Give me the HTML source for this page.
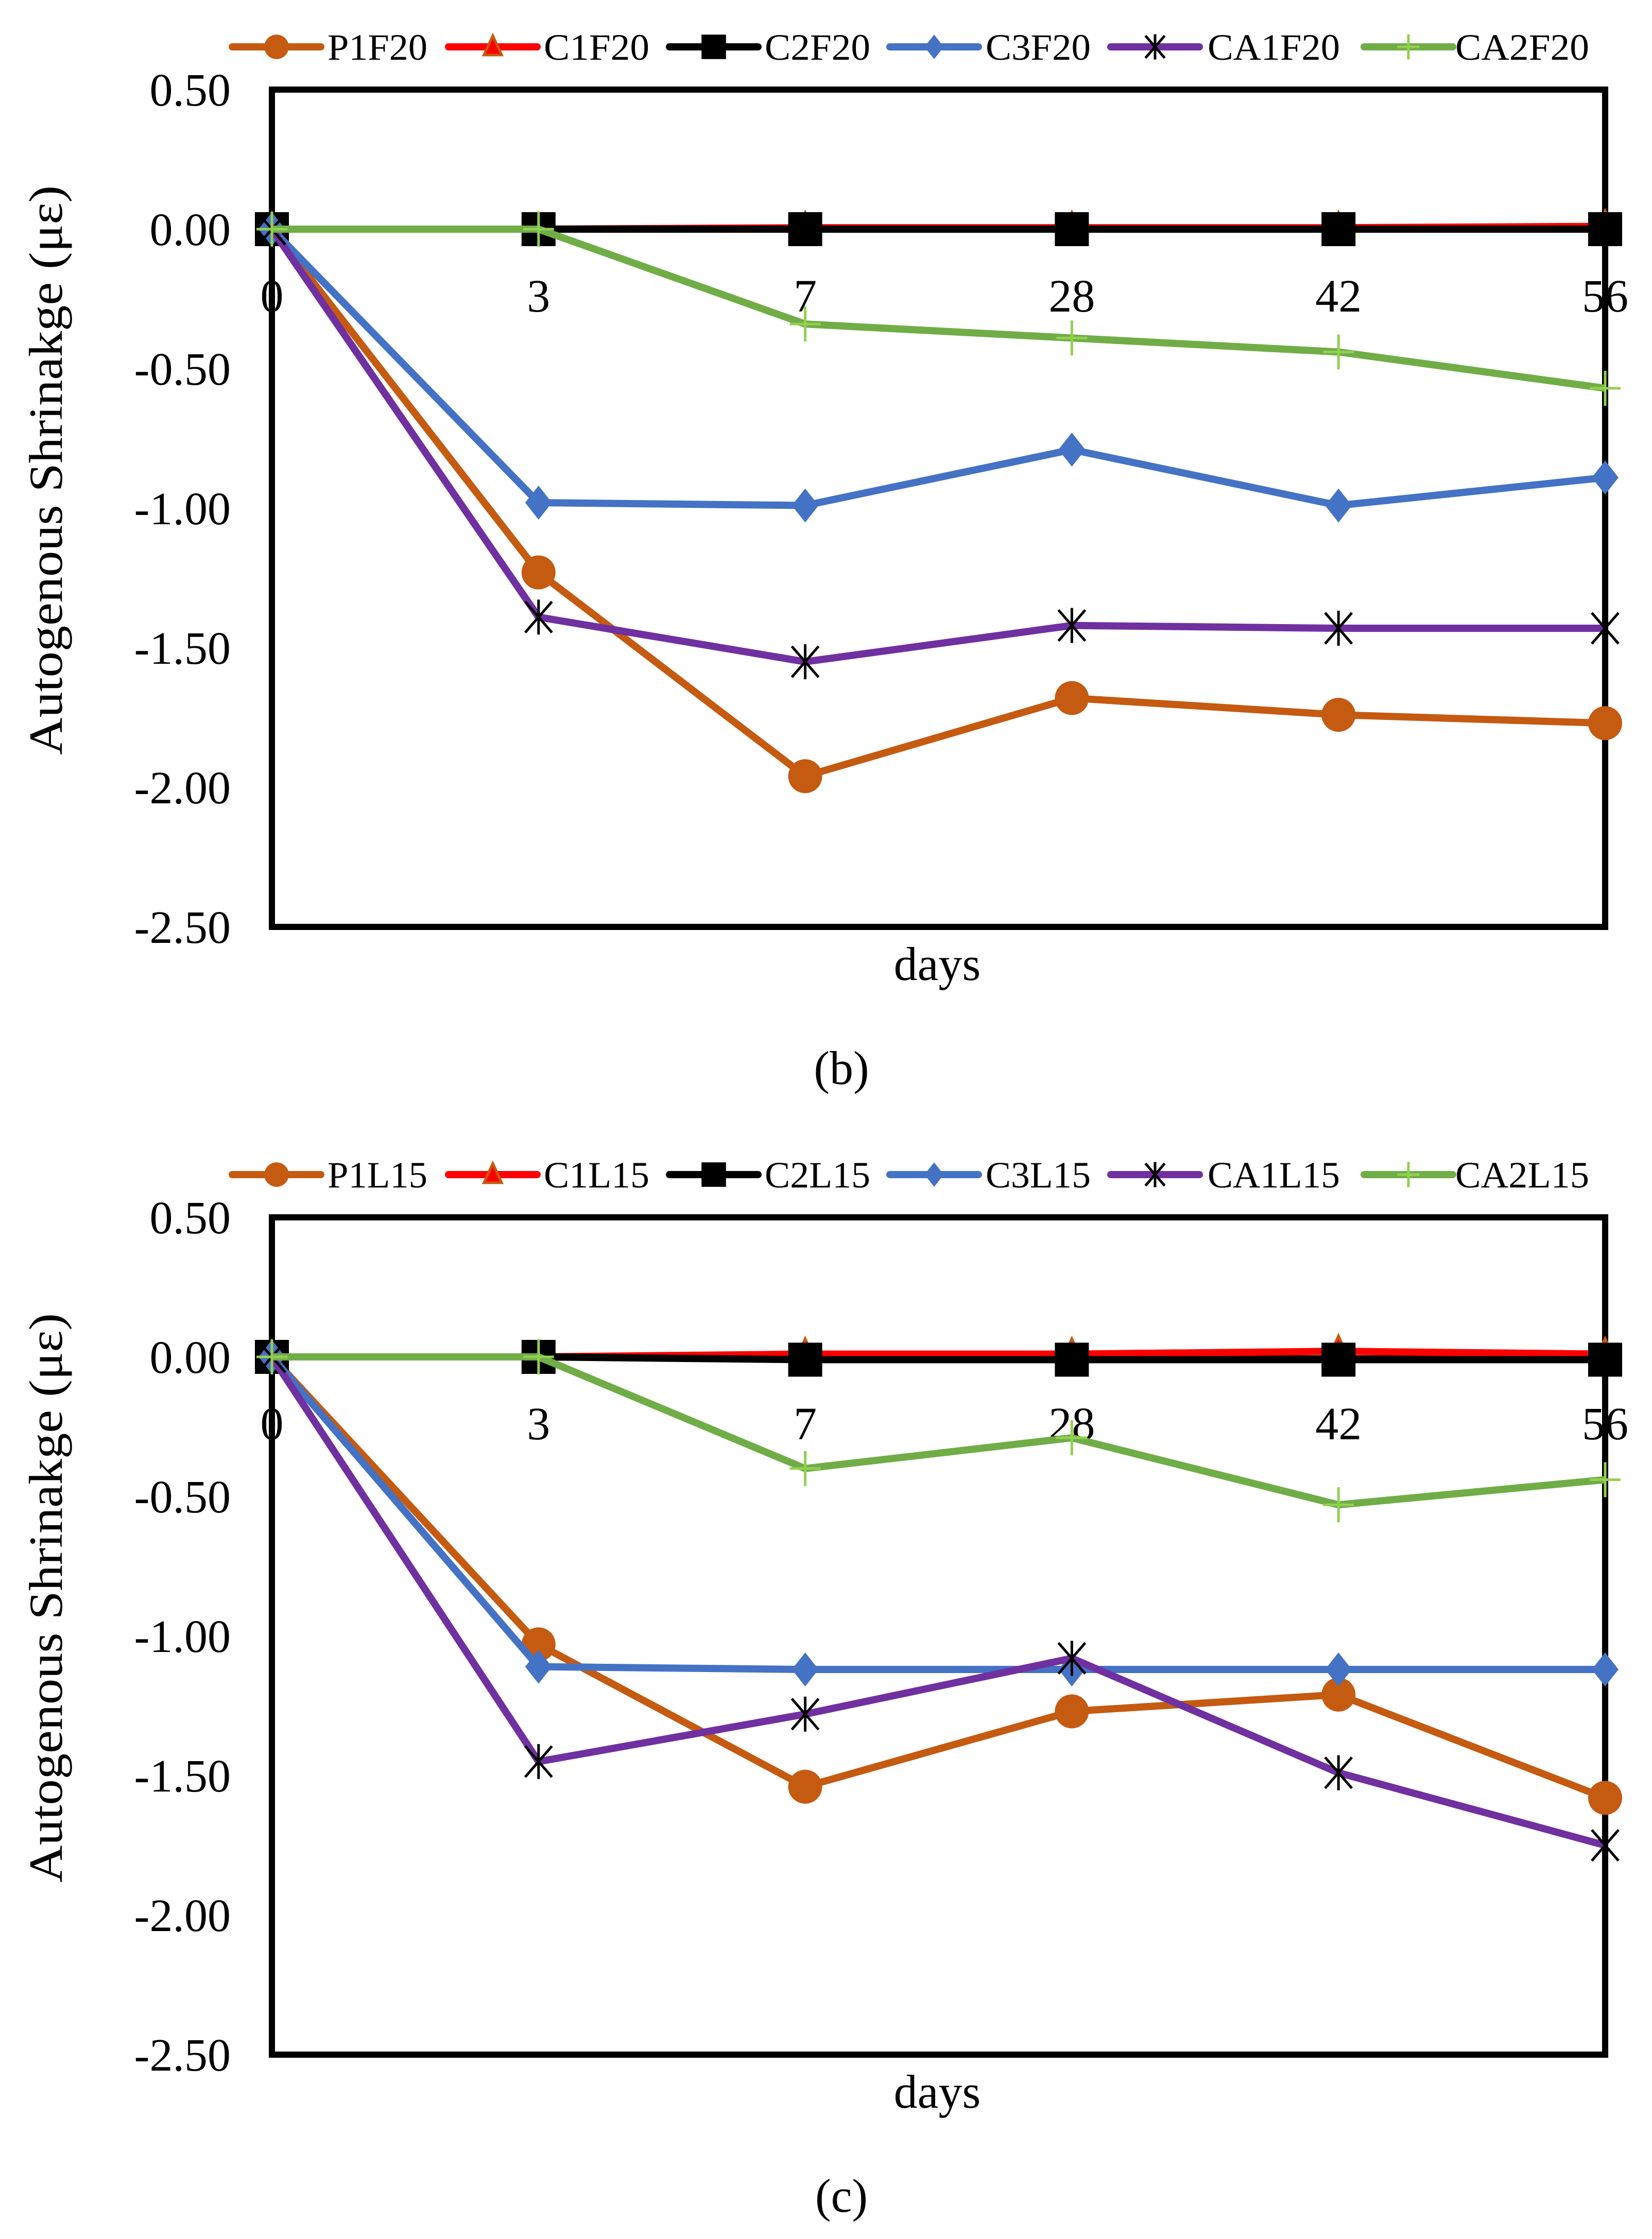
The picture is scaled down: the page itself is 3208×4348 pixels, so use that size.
<!DOCTYPE html>
<html><head><meta charset="utf-8"><style>
html,body{margin:0;padding:0;background:#fff;}
svg{display:block;}
text{font-family:"Liberation Serif","Times New Roman",serif;}
</style></head><body>
<svg id="svg" width="3208" height="4348" viewBox="0 0 3208 4348" xmlns="http://www.w3.org/2000/svg" font-family="Liberation Serif, serif"></svg>
<script>
const categories = ["0","3","7","28","42","56"];
const yTicks = [0.5,0,-0.5,-1,-1.5,-2,-2.5];
const yTickLabels = ["0.50","0.00","-0.50","-1.00","-1.50","-2.00","-2.50"];
const namesB = ["P1F20","C1F20","C2F20","C3F20","CA1F20","CA2F20"];
const namesC = ["P1L15","C1L15","C2L15","C3L15","CA1L15","CA2L15"];
const b_P1 = [0,-1.23,-1.96,-1.68,-1.74,-1.77];
const b_C1 = [0,0,0.005,0.005,0.005,0.01];
const b_C2 = [0,0,0,0,0,0];
const b_C3 = [0,-0.98,-0.99,-0.79,-0.99,-0.89];
const b_CA1 = [0,-1.39,-1.55,-1.42,-1.43,-1.43];
const b_CA2 = [0,0,-0.34,-0.39,-0.44,-0.57];
const c_P1 = [0,-1.03,-1.54,-1.27,-1.21,-1.58];
const c_C1 = [0,0,0.01,0.01,0.02,0.01];
const c_C2 = [0,0,-0.01,-0.01,-0.01,-0.01];
const c_C3 = [0,-1.11,-1.12,-1.12,-1.12,-1.12];
const c_CA1 = [0,-1.45,-1.28,-1.08,-1.49,-1.75];
const c_CA2 = [0,0,-0.40,-0.29,-0.53,-0.44];

const NS="http://www.w3.org/2000/svg";
const svg=document.getElementById('svg');
const FF='"Liberation Serif", serif';
function mk(tag,attrs,parent){const e=document.createElementNS(NS,tag);for(const k in attrs)e.setAttribute(k,attrs[k]);if(tag==='text')e.setAttribute('font-family',FF);(parent||svg).appendChild(e);return e;}
const styles=[
 {color:"#C55A11",marker:"circle"},
 {color:"#FF0000",marker:"triangle"},
 {color:"#000000",marker:"square"},
 {color:"#4472C4",marker:"diamond"},
 {color:"#7030A0",marker:"star"},
 {color:"#70AD47",marker:"plus"}];
const legX=[451,871,1300,1728,2157,2649];
const legTX=[636,1056,1485,1914,2345,2826];
const legTW=[194,205,205,204,257,260];

function marker(g,type,x,y,color,s){
  let e;
  if(type==="circle") e=mk('circle',{cx:x,cy:y,r:33*s,fill:color},g);
  else if(type==="triangle") e=mk('polygon',{points:`${x},${y-30*s} ${x-24*s},${y+22*s} ${x+24*s},${y+22*s}`,fill:"#FF0000",stroke:"#C55A11","stroke-width":5},g);
  else if(type==="square") e=mk('rect',{x:x-33*s,y:y-33*s,width:66*s,height:66*s,fill:"#000"},g);
  else if(type==="diamond") e=mk('polygon',{points:`${x},${y-33*s} ${x+26*s},${y} ${x},${y+33*s} ${x-26*s},${y}`,fill:color},g);
  else if(type==="star"){e=mk('path',{d:`M${x-26*s},${y-30*s}L${x+26*s},${y+30*s}M${x+26*s},${y-30*s}L${x-26*s},${y+30*s}M${x},${y-34*s}L${x},${y+34*s}`,stroke:"#000","stroke-width":5,fill:"none"},g);}
  else {e=mk('path',{d:`M${x-30*s},${y}L${x+30*s},${y}M${x},${y-34*s}L${x},${y+34*s}`,stroke:"#92D050","stroke-width":5,fill:"none"},g);}
  return e;
}

function chart(off,names,series,tag,label){
  const L=528,R=3117,T=174+off,B=1800+off;
  const ymin=-2.5,ymax=0.5;
  const xs=i=>L+(R-L)*i/(categories.length-1);
  const ys=v=>T+(ymax-v)/(ymax-ymin)*(B-T);
  const g=mk('g',{});
  
  
  names.forEach((n,i)=>{
    const lg=mk('g',{},g);
    
    
    const ly=91+off;
    mk('line',{x1:legX[i],y1:ly,x2:legX[i]+172,y2:ly,stroke:styles[i].color,"stroke-width":14,"stroke-linecap":"round"},lg);
    marker(lg,styles[i].marker,legX[i]+86,ly,styles[i].color,0.72);
    const t=mk('text',{x:legTX[i],y:ly+25,"font-size":72,textLength:legTW[i],lengthAdjust:"spacingAndGlyphs"},lg);t.textContent=n;
  });
  yTicks.forEach((v,i)=>{
    const t=mk('text',{x:448,y:ys(v)+31,"font-size":90,"text-anchor":"end"},g);
    
    
    t.textContent=yTickLabels[i];
  });
  const fr=mk('rect',{x:L,y:T,width:R-L,height:B-T,fill:"none",stroke:"#000","stroke-width":12},g);
  
  
  mk('line',{x1:L,y1:ys(0),x2:R,y2:ys(0),stroke:"#000","stroke-width":6},g);
  categories.forEach((c,i)=>{
    const t=mk('text',{x:xs(i),y:ys(0)+160,"font-size":90,"text-anchor":"middle"},g);
    
    
    t.textContent=c;
  });
  series.forEach((vals,si)=>{
    const sg=mk('g',{},g);
    
    
    const pts=vals.map((v,i)=>xs(i)+","+ys(v)).join(" ");
    mk('polyline',{points:pts,fill:"none",stroke:styles[si].color,"stroke-width":14,"stroke-linejoin":"round"},sg);
    vals.forEach((v,i)=>{
      const m=marker(sg,styles[si].marker,xs(i),ys(v),styles[si].color,1);
      
      
    });
  });
  const yt=mk('text',{x:0,y:0,"font-size":92,"text-anchor":"middle",textLength:1106,lengthAdjust:"spacingAndGlyphs",transform:`translate(120,${913+off}) rotate(-90)`},g);
  
  
  yt.textContent="Autogenous Shrinakge (με)";
  const xt=mk('text',{x:1820,y:1903+off,"font-size":92,"text-anchor":"middle"},g);
  
  
  xt.textContent="days";
  const cap=mk('text',{x:1634,y:2105+off,"font-size":92,"text-anchor":"middle"},g);
  
  
  cap.textContent=label;
}
chart(0,namesB,[b_P1,b_C1,b_C2,b_C3,b_CA1,b_CA2],"b","(b)");
chart(2190,namesC,[c_P1,c_C1,c_C2,c_C3,c_CA1,c_CA2],"c","(c)");
</script>
</body></html>
